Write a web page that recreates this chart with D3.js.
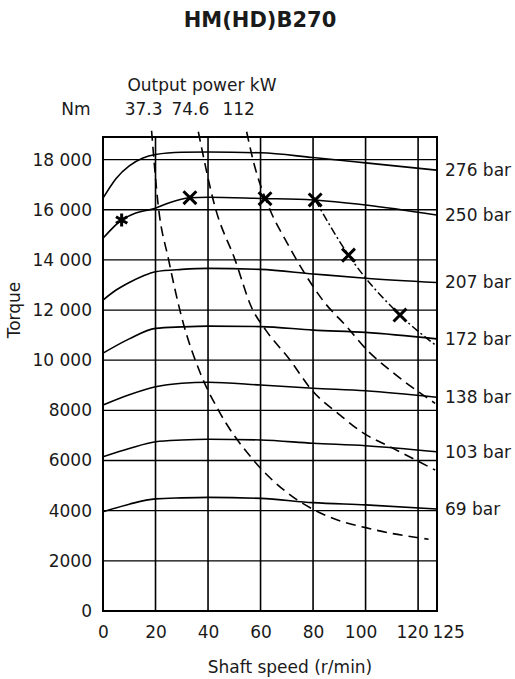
<!DOCTYPE html>
<html>
<head>
<meta charset="utf-8">
<script src="https://cdn.jsdelivr.net/npm/d3@7"></script>
<style>
    body { margin: 0; background: #fff; }
    text { font-family: "DejaVu Sans", Verdana, sans-serif; fill: #1a1a1a; }
</style>
</head>
<body>
<div id="main"></div>
<script>
// axis ticks
const xTicks = [0, 20, 40, 60, 80, 100, 120, 125]
const yTicks = [0, 2000, 4000, 6000, 8000, 10000, 12000, 14000, 16000, 18000]

// torque curves per pressure, [speed r/min, torque Nm]
const p276 = [[0, 16460], [5, 17250], [10, 17750], [15, 18050], [20, 18200], [30, 18290], [40, 18300], [60, 18270], [80, 18080], [100, 17870], [127, 17580]]
const p250 = [[0, 14860], [7.1, 15590], [12, 15850], [20, 16060], [25, 16270], [33, 16480], [40, 16500], [60, 16450], [80, 16390], [100, 16190], [127, 15790]]
const p207 = [[0, 12400], [5, 12800], [10, 13100], [15, 13350], [20, 13530], [30, 13620], [40, 13660], [60, 13620], [80, 13440], [100, 13270], [127, 13100]]
const p172 = [[0, 10280], [10, 10850], [20, 11270], [30, 11330], [40, 11360], [60, 11340], [80, 11200], [100, 11110], [127, 10850]]
const p138 = [[0, 8210], [10, 8620], [20, 8940], [30, 9080], [40, 9120], [60, 9010], [80, 8880], [100, 8780], [127, 8520]]
const p103 = [[0, 6150], [10, 6480], [20, 6750], [30, 6820], [40, 6850], [60, 6820], [80, 6690], [100, 6590], [127, 6350]]
const p69 = [[0, 3960], [10, 4260], [20, 4470], [30, 4510], [40, 4530], [60, 4490], [80, 4320], [100, 4230], [127, 4070]]
const pressureLabels = ["276 bar", "250 bar", "207 bar", "172 bar", "138 bar", "103 bar", "69 bar"]
const pressureCurves = [p276, p250, p207, p172, p138, p103, p69]

// constant output power curves
const kw373 = [[18.5, 19150], [21, 16200], [25, 14000], [30, 11700], [37, 9500], [44, 8000], [57, 6050], [71, 4650], [84, 3850], [103, 3250], [124, 2860]]
const kw746 = [[36.3, 19110], [42.7, 16100], [50.3, 14000], [56.6, 12100], [62, 11200], [71.2, 10010], [79.5, 8810], [90.3, 7810], [99.2, 7090], [109.3, 6550], [126.5, 5620]]
const kw112 = [[54.7, 19110], [57.1, 18000], [63.6, 16000], [70, 14700], [76, 13600], [84, 12350], [92.8, 11340], [100.5, 10410], [109.3, 9600], [126.5, 8280]]
const powerLabels = ["37.3", "74.6", "112"]
const powerCurves = [kw373, kw746, kw112]

// max speed limit (dash-dot) and marked points
const limitCurve = [[80.8, 16390], [93.5, 14190], [113.1, 11800], [126.5, 10610]]
const markers = [[7.1, 15590], [33.1, 16480], [61.7, 16440], [80.8, 16390], [93.5, 14190], [113.1, 11800]]

const ctx = {
    w: 515,
    h: 679,
    left: 103,
    right: 437,
    top: 137,
    bottom: 611
}

function createViz() {
    let svg = d3.select('#main').append('svg')
        .attr('width', ctx.w)
        .attr('height', ctx.h)

    let x = d3.scaleLinear().domain([0, 127.2]).range([ctx.left, ctx.right])
    let y = d3.scaleLinear().domain([0, 18900]).range([ctx.bottom, ctx.top])

    // title
    svg.append('text')
        .attr('x', 260).attr('y', 27)
        .attr('text-anchor', 'middle')
        .attr('font-size', 21).attr('font-weight', 'bold')
        .text('HM(HD)B270')

    // grid
    let grid = svg.append('g')
    grid.selectAll('line.v')
        .data(xTicks.filter(d => d > 0 && d < 125))
        .join('line')
        .attr('x1', d => x(d)).attr('x2', d => x(d))
        .attr('y1', ctx.top).attr('y2', ctx.bottom)
        .attr('stroke', '#000').attr('stroke-width', 1.6)
    grid.selectAll('line.h')
        .data(yTicks.filter(d => d > 0))
        .join('line')
        .attr('x1', ctx.left).attr('x2', ctx.right)
        .attr('y1', d => y(d)).attr('y2', d => y(d))
        .attr('stroke', '#000').attr('stroke-width', 1.3)
    svg.append('rect')
        .attr('x', ctx.left).attr('y', ctx.top)
        .attr('width', ctx.right - ctx.left).attr('height', ctx.bottom - ctx.top)
        .attr('fill', 'none').attr('stroke', '#000').attr('stroke-width', 2)

    // axes (labels only)
    let yAxis = svg.append('g')
        .attr('transform', `translate(${ctx.left},0)`)
        .call(d3.axisLeft(y).tickValues(yTicks).tickSize(0).tickPadding(11)
            .tickFormat(d => d >= 10000 ? d3.format(',')(d).replace(',', ' ') : d))
    yAxis.select('.domain').remove()
    yAxis.selectAll('text').attr('font-size', 17)

    let xAxis = svg.append('g')
        .attr('transform', `translate(0,${ctx.bottom})`)
        .call(d3.axisBottom(x).tickValues(xTicks).tickSize(0).tickPadding(15))
    xAxis.select('.domain').remove()
    xAxis.selectAll('text').attr('font-size', 17)
    xAxis.selectAll('.tick').filter(d => d === 100).select('text').attr('dx', -5)
    xAxis.selectAll('.tick').filter(d => d === 120).select('text').attr('dx', -6)
    xAxis.selectAll('.tick').filter(d => d === 125).select('text').attr('dx', 17)

    svg.append('text')
        .attr('transform', 'translate(20,310) rotate(-90)')
        .attr('text-anchor', 'middle')
        .attr('font-size', 17)
        .text('Torque')
    svg.append('text')
        .attr('x', 290).attr('y', 673)
        .attr('text-anchor', 'middle')
        .attr('font-size', 17)
        .text('Shaft speed (r/min)')

    // top power labels
    svg.append('text')
        .attr('x', 202).attr('y', 91)
        .attr('text-anchor', 'middle')
        .attr('font-size', 17)
        .text('Output power kW')
    svg.append('text')
        .attr('x', 76).attr('y', 115)
        .attr('text-anchor', 'middle')
        .attr('font-size', 17)
        .text('Nm')
    svg.selectAll('text.pw')
        .data(powerCurves)
        .join('text')
        .attr('x', d => x(d[0][0]) - 8).attr('y', 115)
        .attr('text-anchor', 'middle')
        .attr('font-size', 17)
        .text((d, i) => powerLabels[i])

    let line = d3.line()
        .x(d => x(d[0]))
        .y(d => y(d[1]))
        .curve(d3.curveMonotoneX)

    // pressure curves
    svg.append('g').selectAll('path')
        .data(pressureCurves)
        .join('path')
        .attr('d', line)
        .attr('fill', 'none').attr('stroke', '#000').attr('stroke-width', 1.6)
    svg.append('g').selectAll('text')
        .data(pressureCurves)
        .join('text')
        .attr('x', 445)
        .attr('y', d => y(d[d.length - 1][1]))
        .attr('dy', '0.35em')
        .attr('font-size', 17)
        .text((d, i) => pressureLabels[i])

    // power curves
    svg.append('g').selectAll('path')
        .data(powerCurves)
        .join('path')
        .attr('d', line)
        .attr('fill', 'none').attr('stroke', '#000').attr('stroke-width', 1.6)
        .attr('stroke-dasharray', '10,6')

    svg.append('path')
        .datum(limitCurve)
        .attr('d', line)
        .attr('fill', 'none').attr('stroke', '#000').attr('stroke-width', 1.5)
        .attr('stroke-dasharray', '8,3,2,3')

    // markers
    svg.append('g').selectAll('path')
        .data(markers)
        .join('path')
        .attr('transform', d => `translate(${x(d[0])},${y(d[1])})`)
        .attr('d', (d, i) => d3.symbol(i === 0 ? d3.symbolAsterisk : d3.symbolTimes, i === 0 ? 120 : 110)())
        .attr('fill', 'none').attr('stroke', '#000').attr('stroke-width', 3)
}

createViz()
</script>
</body>
</html>
